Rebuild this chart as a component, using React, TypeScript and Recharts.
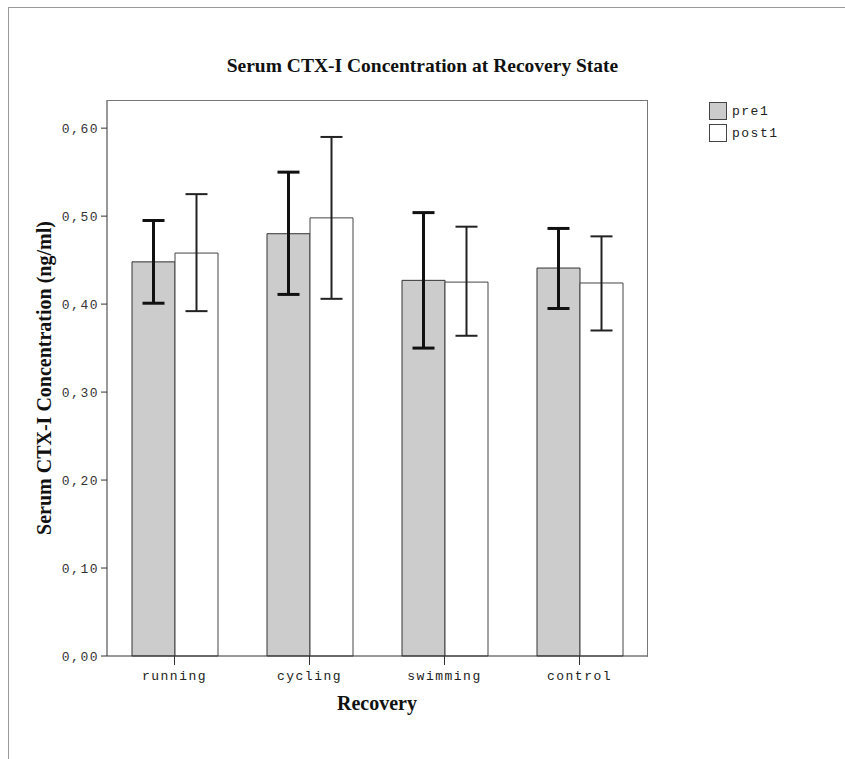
import React from "react";
import { BarChart, Bar, XAxis, YAxis, ErrorBar } from "recharts";

const categories = ["running", "cycling", "swimming", "control"];
const pre1 = [0.448, 0.48, 0.427, 0.441];
const post1 = [0.458, 0.498, 0.425, 0.424];
// 95% CI bounds
const preLow = [0.401, 0.411, 0.35, 0.395];
const preHigh = [0.495, 0.55, 0.504, 0.486];
const postLow = [0.392, 0.406, 0.364, 0.37];
const postHigh = [0.525, 0.59, 0.488, 0.477];
const yTicks = [0, 0.1, 0.2, 0.3, 0.4, 0.5, 0.6];

const data = categories.map((name, i) => ({
  name,
  pre1: pre1[i],
  post1: post1[i],
  preErr: [pre1[i] - preLow[i], preHigh[i] - pre1[i]],
  postErr: [post1[i] - postLow[i], postHigh[i] - post1[i]],
}));

const MONO = "'Liberation Mono', 'DejaVu Sans Mono', monospace";
const SERIF = "'Liberation Serif', 'DejaVu Serif', serif";

const fmt = (v: number) => v.toFixed(2).replace(".", ",");

function YLabel({ viewBox }: any) {
  const x = viewBox.x + 44;
  const y = viewBox.y + viewBox.height / 2;
  return (
    <text x={x} y={y} transform={`rotate(-90 ${x} ${y})`} textAnchor="middle" dominantBaseline="central"
      fontFamily={SERIF} fontWeight="bold" fontSize={20} fill="#111">
      Serum CTX-I Concentration (ng/ml)
    </text>
  );
}

function XLabel({ viewBox }: any) {
  return (
    <text x={viewBox.x + viewBox.width / 2} y={viewBox.y + 54} textAnchor="middle"
      fontFamily={SERIF} fontWeight="bold" fontSize={20} fill="#111">
      Recovery
    </text>
  );
}

function LegendBox() {
  const item = (label: string, fill: string) => (
    <div style={{ display: "flex", alignItems: "center", height: 22 }}>
      <div style={{ width: 16, height: 16, background: fill, border: "1px solid #444", marginRight: 5 }} />
      <span style={{ fontFamily: MONO, fontSize: 13, letterSpacing: 1.5, color: "#222" }}>{label}</span>
    </div>
  );
  return (
    <div style={{ position: "absolute", left: 709, top: 100 }}>
      {item("pre1", "#cccccc")}
      {item("post1", "#ffffff")}
    </div>
  );
}

export default function App() {
  return (
    <div style={{ position: "absolute", left: 0, top: 0, width: 845, height: 759, background: "#fff" }}>
      <div style={{ position: "absolute", left: 8, top: 7, right: 0, bottom: 0, borderLeft: "1px solid #999", borderTop: "1px solid #999" }} />
      <div style={{ position: "absolute", left: 0, top: 55, width: 845, textAlign: "center", fontFamily: SERIF, fontWeight: "bold", fontSize: 19.5, color: "#111" }}>
        Serum CTX-I Concentration at Recovery State
      </div>
      <LegendBox />
      <BarChart width={845} height={759} data={data} margin={{ top: 100, right: 198, bottom: 0, left: 0 }}
        barCategoryGap={25} barGap={0} style={{ position: "absolute", left: 0, top: 0 }}>
        <XAxis dataKey="name" axisLine={{ stroke: "#333" }} tickLine={{ stroke: "#333" }} tickSize={9} height={103}
          tick={{ fontFamily: MONO, fontSize: 13, fill: "#222", letterSpacing: 1.5, dy: 4 }} label={<XLabel />} />
        <YAxis domain={[0, 0.632]} ticks={yTicks} width={107} tickFormatter={fmt} axisLine={{ stroke: "#333" }}
          tickLine={{ stroke: "#333" }} tickSize={6} interval={0}
          tick={{ fontFamily: MONO, fontSize: 13, fill: "#333", letterSpacing: 1.5 }} label={<YLabel />} />
        <Bar dataKey="pre1" fill="#cccccc" stroke="#333" strokeWidth={1} isAnimationActive={false}>
          <ErrorBar dataKey="preErr" width={11} strokeWidth={3} stroke="#111" />
        </Bar>
        <Bar dataKey="post1" fill="#ffffff" stroke="#444" strokeWidth={1} isAnimationActive={false}>
          <ErrorBar dataKey="postErr" width={11} strokeWidth={2} stroke="#222" />
        </Bar>
      </BarChart>
      {/* top and right edges of the plot frame */}
      <div style={{ position: "absolute", left: 107, top: 100, width: 540, height: 556, borderTop: "1px solid #777", borderRight: "1px solid #777", pointerEvents: "none" }} />
    </div>
  );
}
